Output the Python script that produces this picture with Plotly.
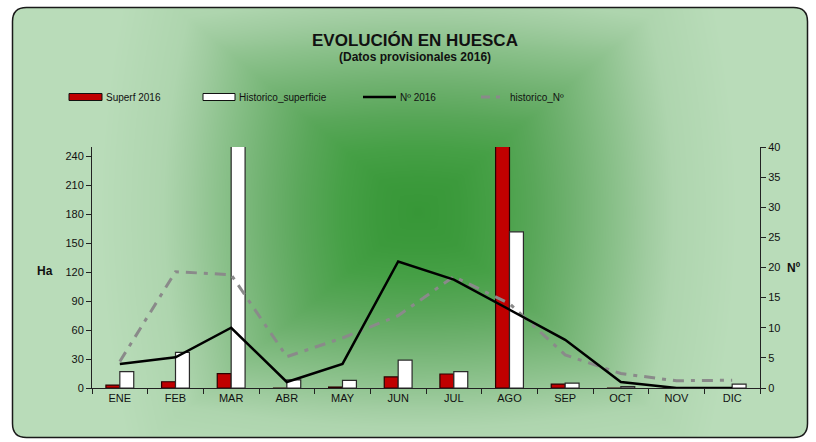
import numpy as np
import plotly.graph_objects as go

# ---------------- data ----------------
meses = ["ENE", "FEB", "MAR", "ABR", "MAY", "JUN", "JUL", "AGO", "SEP", "OCT", "NOV", "DIC"]
superf_2016 = [3, 6.5, 15, 0, 1, 11.5, 14.5, 420, 4, 0, 0, 0]
historico_superficie = [17, 37, 380, 8.5, 8, 29, 17, 162, 5, 1.5, 0, 4]
num_2016 = [4, 5.1, 10, 1, 4, 21, 18, 13, 8, 1, 0, 0]
historico_num = [4.4, 19.3, 18.8, 5.2, 8.3, 12, 18.5, 14, 5.5, 2.4, 1.2, 1.3]
names = ["Superf 2016", "Historico_superficie", "Nº 2016", "historico_Nº"]
left_ticks = [0, 30, 60, 90, 120, 150, 180, 210, 240]
right_ticks = [0, 5, 10, 15, 20, 25, 30, 35, 40]

W, H = 816, 442
def px(x): return x / W
def py(y): return 1 - y / H

FONT = "Liberation Sans, Arial, sans-serif"
NARROW = "Liberation Sans Narrow, Arial Narrow, Liberation Sans, Arial, sans-serif"
TXT = "#111111"

# plot area in pixels
PX0, PX1, PY0, PY1 = 92, 760, 147, 388
# chart frame in pixels
FX0, FY0, FX1, FY1, R = 12.5, 7.5, 807.5, 437.5, 14

fig = go.Figure()

# ---------- background gradient (soft rectangular path gradient) ----------
gx = np.linspace(FX0, FX1, 200)
gy = np.linspace(FY0, FY1, 110)
cx, cy = 418, 212
hw, hh = 255, 215
TMAX = 1.25
XX, YY = np.meshgrid(gx, gy)
U, V = np.abs(XX - cx) / hw, np.abs(YY - cy) / hh
Z = np.minimum(0.75 * np.maximum(U, V) + 0.25 * np.sqrt(U ** 2 + V ** 2), TMAX)
stops = [(0, "#379737"), (0.16, "#3c9a3c"), (0.3, "#46a046"), (0.46, "#5aa75a"),
         (0.6, "#6fb16f"), (0.72, "#82bc82"), (0.8, "#8fc38f"), (0.9, "#a0cca0"),
         (1.0, "#aed5ae"), (TMAX, "#b9dcb9")]
fig.add_trace(go.Heatmap(
    x=gx, y=gy, z=Z, xaxis="x", yaxis="y", zmin=0, zmax=TMAX, zsmooth="best",
    showscale=False, hoverinfo="skip",
    colorscale=[[t / TMAX, c] for t, c in stops],
))

# ---------- bars ----------
fig.add_trace(go.Bar(x=meses, y=superf_2016, name=names[0], xaxis="x2", yaxis="y2",
                     marker=dict(color="#c00000", line=dict(color="#2a0000", width=1.2)),
                     showlegend=False))
fig.add_trace(go.Bar(x=meses, y=historico_superficie, name=names[1], xaxis="x2", yaxis="y2",
                     marker=dict(color="#ffffff", line=dict(color="#2a2a2a", width=1.2)),
                     showlegend=False))
# ---------- lines ----------
fig.add_trace(go.Scatter(x=meses, y=historico_num, name=names[3], xaxis="x2", yaxis="y3",
                         mode="lines", line=dict(color="#8a8a8a", width=3, dash="11px,7px,4px,7px"),
                         showlegend=False))
fig.add_trace(go.Scatter(x=meses, y=num_2016, name=names[2], xaxis="x2", yaxis="y3",
                         mode="lines", line=dict(color="#000000", width=2.5),
                         showlegend=False))

shapes = []
# white masks outside rounded corners
def corner(xc, yc, sx, sy):
    p0 = (xc + sx * R, yc)
    p1 = (xc, yc + sy * R)
    e = (xc - sx * 3, yc - sy * 3)
    return (f"M {px(e[0])},{py(e[1])} L {px(p0[0])},{py(e[1])} L {px(p0[0])},{py(p0[1])} "
            f"Q {px(xc)},{py(yc)} {px(p1[0])},{py(p1[1])} L {px(e[0])},{py(p1[1])} Z")
for xc, yc, sx, sy in [(FX0, FY0, 1, 1), (FX1, FY0, -1, 1), (FX0, FY1, 1, -1), (FX1, FY1, -1, -1)]:
    shapes.append(dict(type="path", xref="paper", yref="paper", path=corner(xc, yc, sx, sy),
                       fillcolor="#ffffff", line=dict(width=0), layer="above"))
# frame
frame = (f"M {px(FX0+R)},{py(FY0)} L {px(FX1-R)},{py(FY0)} Q {px(FX1)},{py(FY0)} {px(FX1)},{py(FY0+R)} "
         f"L {px(FX1)},{py(FY1-R)} Q {px(FX1)},{py(FY1)} {px(FX1-R)},{py(FY1)} "
         f"L {px(FX0+R)},{py(FY1)} Q {px(FX0)},{py(FY1)} {px(FX0)},{py(FY1-R)} "
         f"L {px(FX0)},{py(FY0+R)} Q {px(FX0)},{py(FY0)} {px(FX0+R)},{py(FY0)} Z")
shapes.append(dict(type="path", xref="paper", yref="paper", path=frame,
                   line=dict(color="#1a1a1a", width=1.5), layer="above"))

# ---------- manual legend ----------
LY = 97
annotations = []
leg = [  # (kind, x0, x1, text_x)
    ("barred", 69, 102, 104),
    ("barwhite", 203, 235, 237),
    ("line", 363, 396, 398),
    ("dash", 481, 506, 508),
]
for (kind, x0, x1, tx), nm in zip(leg, names):
    if kind == "barred":
        shapes.append(dict(type="rect", xref="paper", yref="paper", x0=px(x0), x1=px(x1),
                           y0=py(LY + 3.5), y1=py(LY - 3.5), fillcolor="#c00000",
                           line=dict(color="#111", width=1)))
    elif kind == "barwhite":
        shapes.append(dict(type="rect", xref="paper", yref="paper", x0=px(x0), x1=px(x1),
                           y0=py(LY + 3.5), y1=py(LY - 3.5), fillcolor="#ffffff",
                           line=dict(color="#111", width=1)))
    elif kind == "line":
        shapes.append(dict(type="line", xref="paper", yref="paper", x0=px(x0), x1=px(x1),
                           y0=py(LY), y1=py(LY), line=dict(color="#000", width=2.5)))
    else:
        shapes.append(dict(type="line", xref="paper", yref="paper", x0=px(x0), x1=px(x1),
                           y0=py(LY), y1=py(LY),
                           line=dict(color="#8a8a8a", width=3, dash="9px,6px,4px,6px")))
    annotations.append(dict(text=nm, xref="paper", yref="paper", x=px(tx), y=py(LY),
                            xanchor="left", yanchor="middle", showarrow=False,
                            font=dict(family=NARROW, size=10, color=TXT)))

# titles
annotations.append(dict(text="<b>EVOLUCIÓN EN HUESCA</b>", xref="paper", yref="paper",
                        x=px(415), y=py(40), xanchor="center", yanchor="middle", showarrow=False,
                        font=dict(family=FONT, size=17, color=TXT)))
annotations.append(dict(text="<b>(Datos provisionales 2016)</b>", xref="paper", yref="paper",
                        x=px(415), y=py(57), xanchor="center", yanchor="middle", showarrow=False,
                        font=dict(family=FONT, size=12, color=TXT)))
annotations.append(dict(text="<b>Ha</b>", xref="paper", yref="paper",
                        x=px(45), y=py(271), xanchor="center", yanchor="middle", showarrow=False,
                        font=dict(family=FONT, size=12, color=TXT)))
annotations.append(dict(text="<b>Nº</b>", xref="paper", yref="paper",
                        x=px(794), y=py(268), xanchor="center", yanchor="middle", showarrow=False,
                        font=dict(family=FONT, size=12, color=TXT)))

tickfont = dict(family=FONT, size=11, color=TXT)
fig.update_layout(
    width=W, height=H, margin=dict(l=0, r=0, t=0, b=0, pad=0, autoexpand=False),
    paper_bgcolor="#ffffff", plot_bgcolor="rgba(0,0,0,0)",
    barmode="group", bargap=0.5, bargroupgap=0,
    showlegend=False,
    xaxis=dict(domain=[px(FX0), px(FX1)], range=[FX0, FX1], visible=False, fixedrange=True),
    yaxis=dict(domain=[py(FY1), py(FY0)], range=[FY1, FY0], visible=False, fixedrange=True),
    xaxis2=dict(domain=[px(PX0), px(PX1)], anchor="y2", type="category",
                showline=True, linecolor="#222", linewidth=1, showgrid=False, zeroline=False,
                ticks="outside", tickson="boundaries", ticklen=5, tickcolor="#222",
                tickfont=tickfont),
    yaxis2=dict(domain=[py(PY1), py(PY0)], anchor="x2", range=[0, 250],
                tickvals=left_ticks, showline=True, linecolor="#222", linewidth=1,
                showgrid=False, zeroline=False, ticks="outside", ticklen=5, tickcolor="#222",
                tickfont=tickfont),
    yaxis3=dict(overlaying="y2", anchor="x2", side="right", range=[0, 40],
                tickvals=right_ticks, showline=True, linecolor="#222", linewidth=1,
                showgrid=False, zeroline=False, ticks="outside", ticklen=5, tickcolor="#222",
                tickfont=tickfont),
    shapes=shapes, annotations=annotations,
)

post = ("document.documentElement.style.margin='0';document.body.style.margin='0';"
        "document.body.style.padding='0';document.body.style.overflow='hidden';"
        "var d=document.getElementById('{plot_id}');d.style.position='absolute';"
        "d.style.left='0px';d.style.top='0px';")
fig.write_html("out.html", config={"displayModeBar": False}, post_script=post)
